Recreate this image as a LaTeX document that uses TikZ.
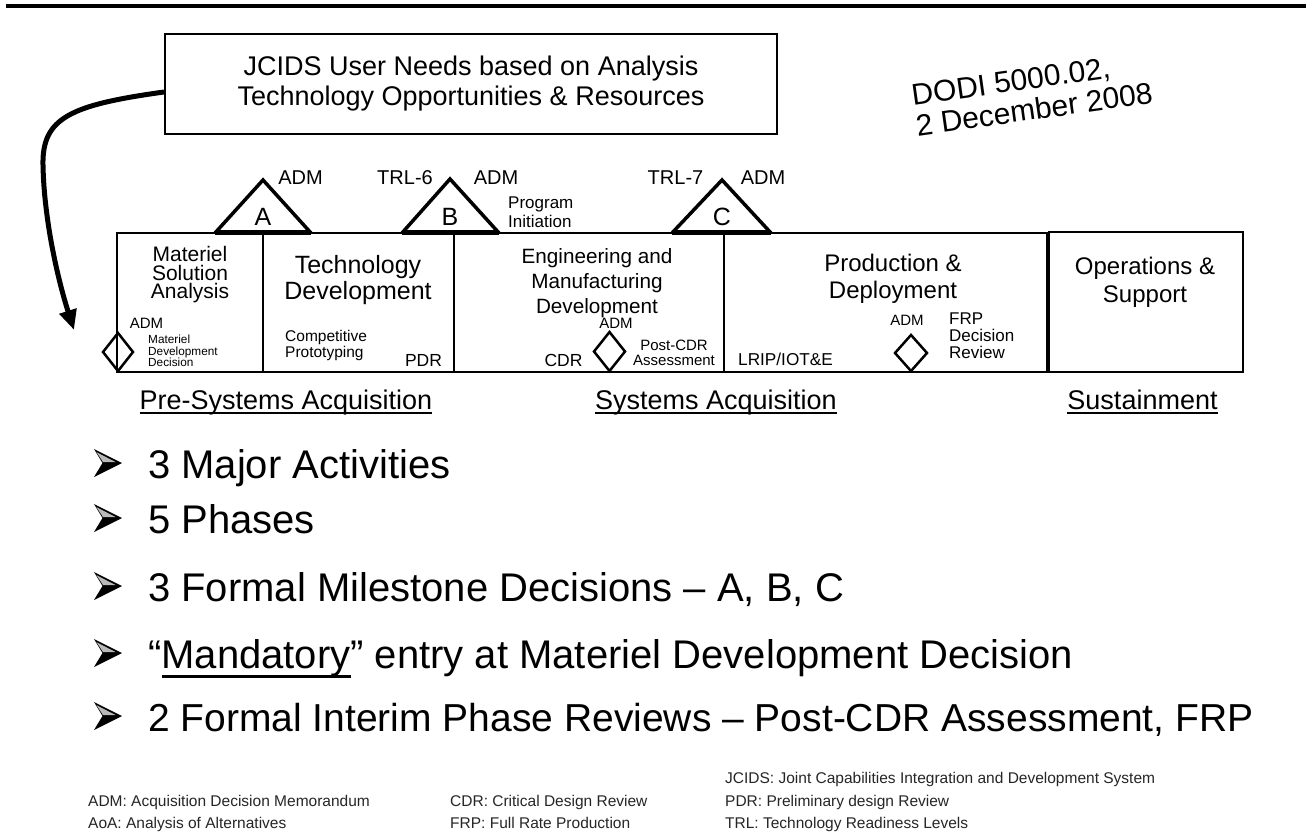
\documentclass[tikz,border=0pt]{standalone}
\usepackage{fontspec}
\setmainfont{Liberation Sans}
\usetikzlibrary{arrows.meta}
\newcommand{\myfont}[2]{\fontsize{#1pt}{#2pt}\selectfont}
\newsavebox{\myulbox}
\newcommand{\myul}[3]{\sbox{\myulbox}{#3}\rlap{\rule[-#1pt]{\wd\myulbox}{#2pt}}\usebox{\myulbox}}
\begin{document}
\begin{tikzpicture}[x=1pt,y=-1pt,
  txt/.style={inner sep=0pt, align=center},
  phase/.style={draw, line width=2pt, inner sep=0pt},
  tri/.style={line width=3.5pt, line join=miter},
  triBase/.style={line width=5pt},
  dia/.style={line width=2.5pt, line join=miter},
  bulletarrow/.pic={
    \fill[black] (0,0) -- (28,14) -- (0,28) -- (8.5,14) -- cycle;
    \fill[gray!55] (2.5,3.2) -- (21.5,13) -- (9,13) -- cycle;
  }
]
\useasboundingbox (0,0) rectangle (1306,835);
\fill[white] (0,0) rectangle (1306,835);
\fill[black] (6,4) rectangle (1306,8);

% JCIDS box
\node[draw, line width=2pt, minimum width=612pt, minimum height=100pt, inner sep=0pt, align=center, font=\myfont{27}{30}] (jcids) at (471,84)
  {JCIDS User Needs based on Analysis\\Technology Opportunities \& Resources};

% DODI
\node[txt, align=left, rotate=8, font=\myfont{30}{31}] (dodi) at (1032,94) {DODI 5000.02,\\2 December 2008};

% phase boxes
\node[phase, minimum width=146pt, minimum height=139pt] (msa) at (190,302.5) {};
\node[phase, minimum width=191pt, minimum height=139pt] (td) at (358.5,302.5) {};
\node[phase, minimum width=270pt, minimum height=139pt] (emd) at (589,302.5) {};
\node[phase, minimum width=323pt, minimum height=139pt] (pd) at (885.5,302.5) {};
\node[phase, minimum width=194pt, minimum height=140pt] (os) at (1146,302) {};

% milestone triangles
\draw[tri] (215,233) -- (263,180) -- (311,233);
\draw[triBase] (215,232) -- (311,232);
\draw[tri] (402,233) -- (450,179) -- (499,233);
\draw[triBase] (402,232) -- (499,232);
\draw[tri] (672,233) -- (722,180) -- (771,233);
\draw[triBase] (672,232) -- (771,232);
\node[txt, font=\myfont{25}{25}] (mA) at (263,217) {A};
\node[txt, font=\myfont{25}{25}] (mB) at (450,217) {B};
\node[txt, font=\myfont{25}{25}] (mC) at (722,217) {C};

% labels above
\node[txt, font=\myfont{20}{20}] (admA) at (300.5,178) {ADM};
\node[txt, font=\myfont{20}{20}] (trl6) at (405,178) {TRL-6};
\node[txt, font=\myfont{20}{20}] (admB) at (496,178) {ADM};
\node[txt, align=left, anchor=west, font=\myfont{17}{19}] (pinit) at (508,212) {Program\\Initiation};
\node[txt, font=\myfont{20}{20}] (trl7) at (675.5,178) {TRL-7};
\node[txt, font=\myfont{20}{20}] (admC) at (763,178) {ADM};

% box 1
\node[txt, font=\myfont{21}{18.5}] (msaT) at (190,275) {Materiel\\Solution\\Analysis};
\node[txt, font=\myfont{15}{15}] (admM) at (146.5,323) {ADM};
\draw[dia] (118,333) -- (133,352) -- (118,371) -- (103,352) -- cycle;
\node[txt, align=left, anchor=west, font=\myfont{11.8}{11.5}] (mdd) at (148,351) {Materiel\\Development\\Decision};

% box 2
\node[txt, font=\myfont{25}{26}] (tdT) at (358,280) {Technology\\Development};
\node[txt, align=left, anchor=west, font=\myfont{15.5}{15.5}] (cp) at (285,345.5) {Competitive\\Prototyping};
\node[txt, font=\myfont{17.5}{17.5}] (pdr) at (423.5,360) {PDR};

% box 3
\node[txt, font=\myfont{20.7}{25}] (emdT) at (597,283) {Engineering and\\Manufacturing\\Development};
\node[txt, font=\myfont{15}{15}] (admE) at (616,323) {ADM};
\draw[dia] (609.5,332) -- (625,351.5) -- (609.5,371) -- (594,351.5) -- cycle;
\node[txt, font=\myfont{17.5}{17.5}] (cdr) at (563.5,360) {CDR};
\node[txt, font=\myfont{15}{15}] (pcdr) at (674,352.5) {Post-CDR\\Assessment};

% box 4
\node[txt, font=\myfont{24}{27}] (pdT) at (893,278.5) {Production \&\\Deployment};
\node[txt, anchor=west, font=\myfont{17.2}{17.2}] (lrip) at (738,359) {LRIP/IOT\&E};
\node[txt, font=\myfont{15}{15}] (admP) at (907,320) {ADM};
\draw[dia] (911,335) -- (927,353) -- (911,371) -- (895,353) -- cycle;
\node[txt, align=left, anchor=west, font=\myfont{17}{17}] (frp) at (949,336) {FRP\\Decision\\Review};

% box 5
\node[txt, font=\myfont{24}{28}] (osT) at (1145,282) {Operations \&\\Support};

% acquisition labels
\node[txt, anchor=base, font=\myfont{27}{27}] (pre) at (286,409) {\myul{4.5}{1.8}{Pre-Systems Acquisition}};
\node[txt, anchor=base, font=\myfont{27}{27}] (sys) at (716,409) {\myul{4.5}{1.8}{Systems Acquisition}};
\node[txt, anchor=base, font=\myfont{27}{27}] (sus) at (1142.5,409) {\myul{4.5}{1.8}{Sustainment}};

% curved arrow
\coordinate (entry) at (74,330);
\draw[line width=5pt, -{Triangle[length=20pt,width=17pt]}] ([yshift=-8pt]jcids.west) .. controls (70,105) and (42,118) .. (43,165) .. controls (44,220) and (58,280) .. (entry);

% bullets
\pic at (94,449) {bulletarrow};
\pic at (94,504) {bulletarrow};
\pic at (94,572) {bulletarrow};
\pic at (94,639) {bulletarrow};
\pic at (94,702) {bulletarrow};
\node[txt, anchor=base west, font=\myfont{40}{40}] (b1) at (148,478) {3 Major Activities};
\node[txt, anchor=base west, font=\myfont{40}{40}] (b2) at (148,533) {5 Phases};
\node[txt, anchor=base west, font=\myfont{40}{40}] (b3) at (148,601) {3 Formal Milestone Decisions -- A, B, C};
\node[txt, anchor=base west, font=\myfont{40}{40}] (b4) at (148,668) {``\myul{9.5}{2.6}{Mandatory}'' entry at Materiel Development Decision};
\node[txt, anchor=base west, font=\myfont{39}{39}] (b5) at (148,731) {2 Formal Interim Phase Reviews -- Post-CDR Assessment, FRP};

% footer
\begin{scope}[every node/.style={txt, anchor=base west, font=\myfont{15.5}{15.5}, text=black!85}]
\node (f1) at (725,783) {JCIDS: Joint Capabilities Integration and Development System};
\node (f2) at (88,806) {ADM: Acquisition Decision Memorandum};
\node (f3) at (450,806) {CDR: Critical Design Review};
\node (f4) at (725,806) {PDR: Preliminary design Review};
\node (f5) at (88,828) {AoA: Analysis of Alternatives};
\node (f6) at (450,828) {FRP: Full Rate Production};
\node (f7) at (725,828) {TRL: Technology Readiness Levels};
\end{scope}
\end{tikzpicture}
\end{document}
